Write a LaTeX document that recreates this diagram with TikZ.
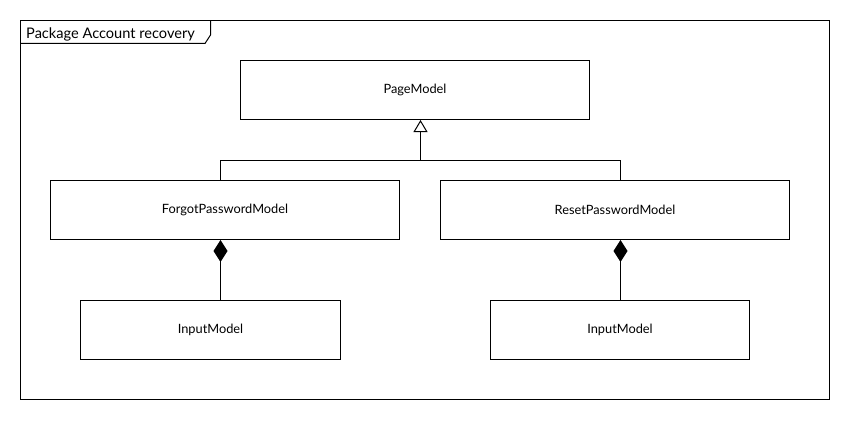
\documentclass[tikz,border=0pt]{standalone}
\usepackage{fontspec}
\setmainfont{Lato}
\usetikzlibrary{arrows.meta,positioning}
\begin{document}
\begin{tikzpicture}[x=1pt,y=-1pt,
  cls/.style={draw,line width=1pt,minimum width=349pt,minimum height=59pt,inner sep=0pt,font=\fontsize{12.8}{15}\selectfont},
  inp/.style={cls,minimum width=260pt},
  line/.style={line width=1pt},
  gen/.style={line,-{Triangle[open,length=12pt,width=14pt,line width=1pt]}},
  comp/.style={line,-{Diamond[length=22pt,width=14pt]}}]
\useasboundingbox (0,0) rectangle (850,420);
\fill[white] (0,0) rectangle (850,420);
% package frame
\draw[line width=1pt] (20.5,20.5) rectangle (829.5,399.5);
\draw[line width=1pt] (20.5,43.5) -- (205,43.5) -- (210.5,35) -- (210.5,20.5);
\node[anchor=base west,inner sep=0pt,font=\fontsize{14.6}{17}\selectfont] (pkg) at (26,38.5) {Package Account recovery};
% classes
\node[cls] (page) at (415,90) {PageModel};
\node[cls] (forgot) at (225,210) {ForgotPasswordModel};
\node[cls] (reset) at (615,210) {ResetPasswordModel};
\node[inp] (in1) at (210.5,330) {InputModel};
\node[inp,minimum width=259pt] (in2) at (620,330) {InputModel};
% generalization
\coordinate (j) at (420.5,160.5);
\coordinate (pb) at (420.5,120);
\draw[line] (forgot.north -| 220.5,0) |- (j) -| (reset.north -| 620.5,0);
\draw[gen] (j) -- (pb);
% composition
\draw[comp] (in1.north -| 220.5,0) -- (forgot.south -| 220.5,0);
\draw[comp] (in2.north -| 620.5,0) -- (reset.south -| 620.5,0);
\end{tikzpicture}
\end{document}
